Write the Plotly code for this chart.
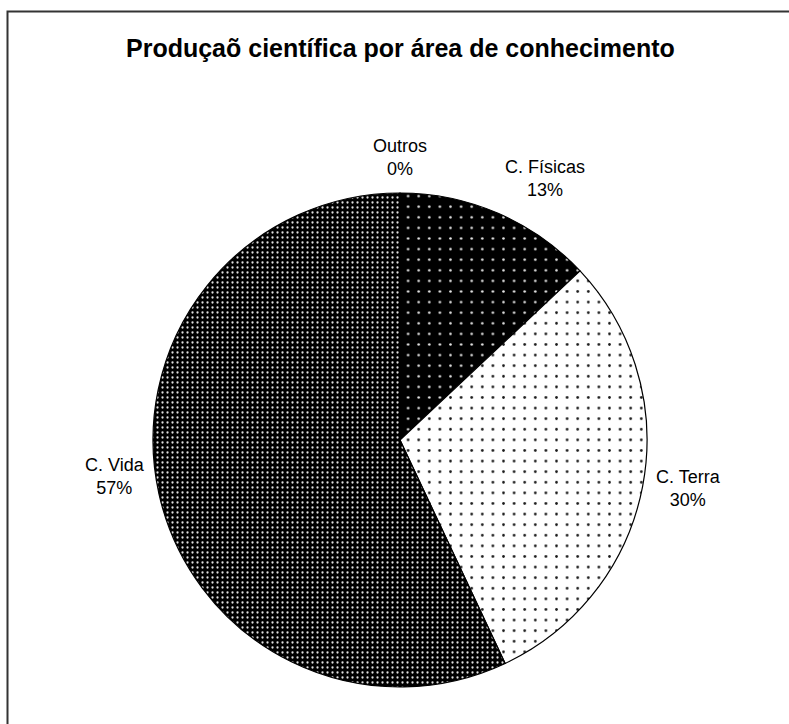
import math
import plotly.graph_objects as go

# Scientific output share by field of knowledge (percent)
areas = ["C. Físicas", "C. Terra", "C. Vida", "Outros"]
shares = [13, 30, 57, 0]

# Fill styling per slice: background, dot colour, dot spacing, dot solidity
bg_colors = ["#000000", "#ffffff", "#000000", "#ffffff"]
dot_colors = ["#e6e6e6", "#1a1a1a", "#e0e0e0", "#000000"]
dot_sizes = [10.6, 10.6, 5.0, 8]
dot_solidity = [0.045, 0.05, 0.16, 0.0]

W, H = 789, 724
cx, cy, rad = 400, 440, 247   # pie centre / radius in px
label_gap = 12                  # gap between pie edge and label box
label_dy = [0, 0, -20, 0]       # small vertical nudges for label boxes (px)
FONT = "Liberation Sans, Arial, sans-serif"

fig = go.Figure(
    go.Pie(
        labels=areas,
        values=shares,
        sort=False,
        direction="clockwise",
        rotation=0,
        textinfo="none",
        hoverinfo="label+percent",
        showlegend=False,
        marker=dict(
            colors=bg_colors,
            line=dict(color="#000000", width=1.2),
            pattern=dict(
                shape=[".", ".", ".", ""],
                fgcolor=dot_colors,
                bgcolor=bg_colors,
                size=dot_sizes,
                solidity=dot_solidity,
                fillmode="replace",
            ),
        ),
        domain=dict(
            x=[(cx - rad) / W, (cx + rad) / W],
            y=[(H - cy - rad) / H, (H - cy + rad) / H],
        ),
    )
)

# Data labels: name + percentage just outside each slice, anchored on the
# side of the box that faces the pie
total = sum(shares)
cum = 0
annotations = []
for name, v, dy in zip(areas, shares, label_dy):
    mid = (cum + v / 2) / total
    cum += v
    ang = 2 * math.pi * mid
    s, c = math.sin(ang), math.cos(ang)
    r = rad + label_gap
    px = cx + r * s
    py = cy - r * c + dy
    xa = "left" if s > 0.2 else ("right" if s < -0.2 else "center")
    ya = "bottom" if c > 0.5 else ("top" if c < -0.5 else "middle")
    pct = round(100 * v / total)
    annotations.append(
        dict(
            x=px / W,
            y=1 - py / H,
            xref="paper",
            yref="paper",
            text=f"{name}<br>{pct}%",
            showarrow=False,
            align="center",
            xanchor=xa,
            yanchor=ya,
            font=dict(family=FONT, size=18, color="#000000"),
        )
    )

annotations.append(
    dict(
        x=400 / W,
        y=1 - 48 / H,
        xref="paper",
        yref="paper",
        text="<b>Produçaõ científica por área de conhecimento</b>",
        showarrow=False,
        xanchor="center",
        yanchor="middle",
        font=dict(family=FONT, size=25, color="#000000"),
    )
)

fig.update_layout(
    width=W,
    height=H,
    margin=dict(l=0, r=0, t=0, b=0),
    paper_bgcolor="#ffffff",
    plot_bgcolor="#ffffff",
    annotations=annotations,
    shapes=[
        dict(
            type="rect",
            xref="paper",
            yref="paper",
            x0=7.5 / W,
            x1=1.05,
            y0=-0.05,
            y1=1 - 11.5 / H,
            line=dict(color="#333333", width=2),
            fillcolor="rgba(0,0,0,0)",
            layer="below",
        )
    ],
)

fig.write_html("out.html")
